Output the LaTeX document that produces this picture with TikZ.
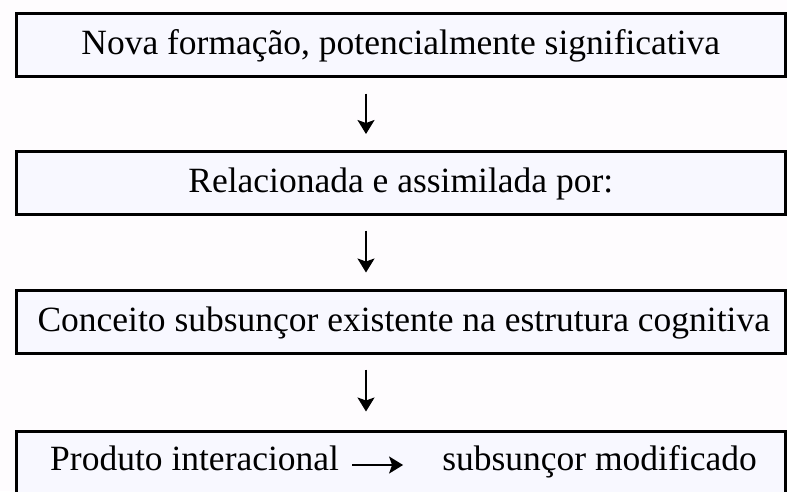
\documentclass[tikz,border=0pt]{standalone}
\usepackage{fontspec}
\setmainfont{Liberation Serif}
\usetikzlibrary{arrows.meta}
\definecolor{bg}{HTML}{FEFCFE}
\definecolor{boxfill}{HTML}{F8F8FF}
\begin{document}
\begin{tikzpicture}[x=1pt,y=-1pt,
  flowbox/.style={draw=black, line width=3pt, fill=boxfill, inner sep=0pt, minimum width=768.5pt,
    text height=40.5pt, text depth=22.5pt, font=\fontsize{35.5}{40}\selectfont, anchor=base},
  plaintext/.style={inner sep=0pt, font=\fontsize{35.5}{40}\selectfont, anchor=base},
  flowarrow/.style={-{Stealth[length=14pt,width=17pt,inset=3pt]}, line width=2pt}]
\fill[bg] (0,0) rectangle (787,491);
\useasboundingbox (0,0) rectangle (787,491);
\node[flowbox] (b1) at (400.75,54) {Nova formação, potencialmente significativa};
\node[flowbox] (b2) at (400.75,192) {Relacionada e assimilada por:};
\node[flowbox] (b3) at (400.75,331) {\hspace*{6pt}Conceito subsunçor existente na estrutura cognitiva};
\node[flowbox, text height=38.5pt, text depth=40pt] (b4) at (400.75,470) {};
\node[plaintext, anchor=base west] (t4a) at (50,470) {Produto interacional};
\node[plaintext, anchor=base east] (t4b) at (757,470) {subsunçor modificado};
\coordinate (ax) at (366,0);
\draw[flowarrow, shorten <=15.5pt, shorten >=16pt] (b1.south -| ax) -- (b2.north -| ax);
\draw[flowarrow, shorten <=14.5pt, shorten >=16.5pt] (b2.south -| ax) -- (b3.north -| ax);
\draw[flowarrow, shorten <=14.5pt, shorten >=18.5pt] (b3.south -| ax) -- (b4.north -| ax);
\draw[flowarrow, shorten <=13pt, shorten >=39pt] (t4a.east |- 0,465) -- (t4b.west |- 0,465);
\end{tikzpicture}
\end{document}
